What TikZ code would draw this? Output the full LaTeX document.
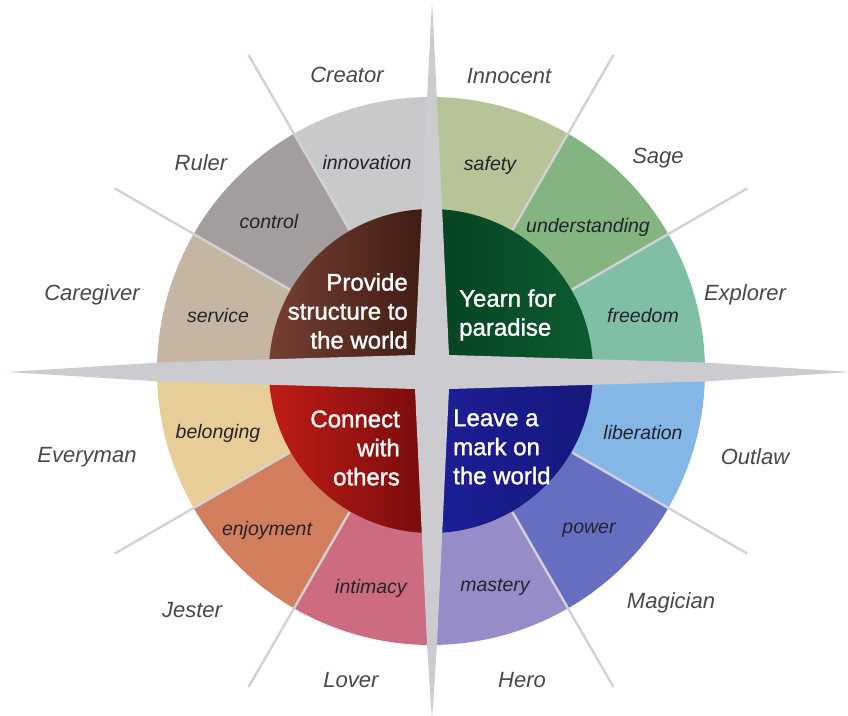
\documentclass[tikz,border=0pt]{standalone}
\usepackage{fontspec}
\setmainfont{Liberation Sans}
\newfontfamily\quadfont{Liberation Sans}[FakeBold=1.3]
\definecolor{cCreator}{RGB}{201,201,203}
\definecolor{cRuler}{RGB}{163,157,157}
\definecolor{cCaregiver}{RGB}{196,182,162}
\definecolor{cEveryman}{RGB}{232,205,152}
\definecolor{cJester}{RGB}{210,126,92}
\definecolor{cLover}{RGB}{205,108,128}
\definecolor{cHero}{RGB}{150,140,200}
\definecolor{cMagician}{RGB}{102,110,194}
\definecolor{cOutlaw}{RGB}{132,182,230}
\definecolor{cExplorer}{RGB}{128,190,166}
\definecolor{cSage}{RGB}{132,180,128}
\definecolor{cInnocent}{RGB}{182,196,152}
\definecolor{starGrey}{RGB}{204,204,208}
\definecolor{lineGrey}{RGB}{210,210,214}
\definecolor{outerText}{RGB}{72,72,74}
\definecolor{ringText}{RGB}{35,35,45}
\tikzset{
  outerlabel/.style={text=outerText, font=\fontsize{22}{26}\selectfont\itshape, inner sep=0pt},
  ringlabel/.style={text=ringText, font=\fontsize{19.5}{23}\selectfont\itshape, inner sep=0pt},
  quadlabel/.style={text=white, font=\quadfont\fontsize{24}{29}\selectfont, inner sep=0pt},
  divider/.style={draw=lineGrey, line width=2.4pt},
}
\newcommand{\ringseg}[2]{%
  \fill[#1] (0,0) -- (#2:274) arc[start angle=#2, end angle=#2+30, radius=274] -- cycle;}
\begin{document}
\begin{tikzpicture}[x=1pt,y=1pt]
\useasboundingbox (-431,-344) rectangle (417,371);
% outer ring segments (counter-clockwise from 0 deg)
\ringseg{cExplorer}{0}
\ringseg{cSage}{30}
\ringseg{cInnocent}{60}
\ringseg{cCreator}{90}
\ringseg{cRuler}{120}
\ringseg{cCaregiver}{150}
\ringseg{cEveryman}{180}
\ringseg{cJester}{210}
\ringseg{cLover}{240}
\ringseg{cHero}{270}
\ringseg{cMagician}{300}
\ringseg{cOutlaw}{330}
% inner quadrants
\shade[left color={rgb,255:red,118;green,64;blue,50}, right color={rgb,255:red,62;green,26;blue,20}]
  (0,0) -- (90:162) arc[start angle=90, end angle=180, radius=162] -- cycle;
\shade[left color={rgb,255:red,6;green,66;blue,34}, right color={rgb,255:red,12;green,92;blue,48}]
  (0,0) -- (0:162) arc[start angle=0, end angle=90, radius=162] -- cycle;
\shade[left color={rgb,255:red,192;green,28;blue,22}, right color={rgb,255:red,118;green,12;blue,12}]
  (0,0) -- (180:162) arc[start angle=180, end angle=270, radius=162] -- cycle;
\shade[left color={rgb,255:red,28;green,30;blue,150}, right color={rgb,255:red,22;green,24;blue,125}]
  (0,0) -- (270:162) arc[start angle=270, end angle=360, radius=162] -- cycle;
% divider lines
\foreach \a in {30,60,120,150,210,240,300,330}
  \draw[divider] (\a:163) -- (\a:365);
% central four-pointed star
\fill[starGrey, shift={(1,-1)}]
  (0,372) -- (5,272) -- (17,17) -- (272,9.5) -- (418,0) -- (272,-9.5) -- (17,-17)
  -- (5,-272) -- (0,-348) -- (-5,-272) -- (-17,-17) -- (-272,-9.5) -- (-425,0)
  -- (-272,9.5) -- (-17,17) -- (-5,272) -- cycle;
% outer labels
\node[outerlabel] (creator) at (-84,296) {Creator};
\node[outerlabel] (innocent) at (78,295) {Innocent};
\node[outerlabel] (sage) at (227,213) {Sage};
\node[outerlabel] (explorer) at (314,76) {Explorer};
\node[outerlabel] (outlaw) at (324,-86) {Outlaw};
\node[outerlabel] (magician) at (240,-232) {Magician};
\node[outerlabel] (hero) at (91,-309) {Hero};
\node[outerlabel] (lover) at (-80,-309) {Lover};
\node[outerlabel] (jester) at (-239,-239) {Jester};
\node[outerlabel] (everyman) at (-344,-86) {Everyman};
\node[outerlabel] (caregiver) at (-339,76) {Caregiver};
\node[outerlabel] (ruler) at (-230,208) {Ruler};
% ring labels
\node[ringlabel] (innovation) at (-64,208) {innovation};
\node[ringlabel] (control) at (-162,149) {control};
\node[ringlabel] (service) at (-213,55) {service};
\node[ringlabel] (belonging) at (-213,-62) {belonging};
\node[ringlabel] (enjoyment) at (-164,-159) {enjoyment};
\node[ringlabel] (intimacy) at (-60,-217) {intimacy};
\node[ringlabel] (mastery) at (64,-216) {mastery};
\node[ringlabel] (power) at (158,-159) {power};
\node[ringlabel] (liberation) at (212,-62) {liberation};
\node[ringlabel] (freedom) at (212,55) {freedom};
\node[ringlabel] (understanding) at (157,144) {understanding};
\node[ringlabel] (safety) at (59,206) {safety};
% quadrant labels
\node[quadlabel, align=right, anchor=east] (provide) at (-23,60) {Provide\\structure to\\the world};
\node[quadlabel, align=left, anchor=west] (yearn) at (28,56) {Yearn for\\paradise};
\node[quadlabel, align=right, anchor=east] (connect) at (-31,-77) {Connect\\with\\others};
\node[quadlabel, align=left, anchor=west] (leave) at (22,-76) {Leave a\\mark on\\the world};
\end{tikzpicture}
\end{document}
